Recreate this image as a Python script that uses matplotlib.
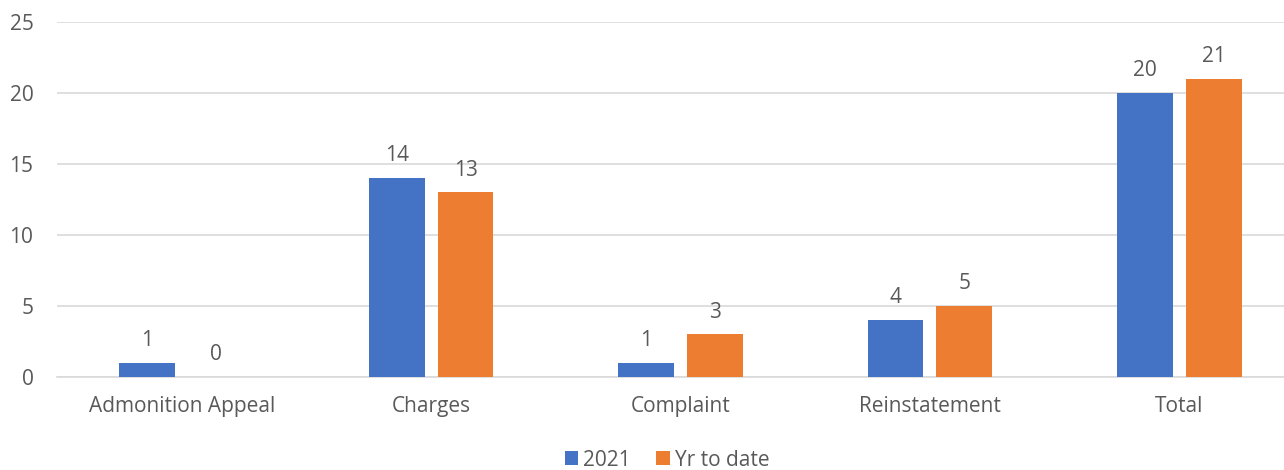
import matplotlib.pyplot as plt
from matplotlib import rcParams
import numpy as np

rcParams['font.family'] = ['Open Sans', 'DejaVu Sans']

# Data
categories = ['Admonition Appeal', 'Charges', 'Complaint', 'Reinstatement', 'Total']
values_2021 = [1, 14, 1, 4, 20]
values_ytd = [0, 13, 3, 5, 21]
series_names = ['2021', 'Yr to date']

blue = '#4472C4'
orange = '#ED7D31'
text_grey = '#595959'
fs = 15

fig = plt.figure(figsize=(12.84, 4.70), dpi=100)
ax = fig.add_axes([57 / 1284, 93 / 470, 1247 / 1284, 355 / 470])

x = np.arange(len(categories))
width = 0.224
offset = 0.138

bars1 = ax.bar(x - offset, values_2021, width, color=blue, label=series_names[0], zorder=3)
bars2 = ax.bar(x + offset, values_ytd, width, color=orange, label=series_names[1], zorder=3)

# Value labels above bars
for bars in (bars1, bars2):
    for b in bars:
        ax.annotate(f'{int(b.get_height())}', (b.get_x() + b.get_width() / 2, b.get_height()),
                    xytext=(0, 8.5), textcoords='offset points', ha='center', va='bottom',
                    fontsize=fs, color=text_grey)

ax.set_xlim(-0.5, 4.5)
ax.set_ylim(0, 25)
ax.set_yticks(range(0, 26, 5))
ax.set_xticks(x)
ax.set_xticklabels(categories)
ax.yaxis.grid(True, color='#D9D9D9', linewidth=1.2, zorder=0)
ax.set_axisbelow(True)
for s in ['top', 'right', 'left']:
    ax.spines[s].set_visible(False)
ax.spines['bottom'].set_color('#D9D9D9')
ax.spines['bottom'].set_linewidth(1.2)
ax.tick_params(axis='both', length=0, labelsize=fs, colors=text_grey)
ax.tick_params(axis='x', pad=14)
ax.tick_params(axis='y', pad=17)

fig.legend(handles=[bars1, bars2], labels=series_names, loc='center', bbox_to_anchor=(667 / 1284, 10 / 470),
           ncol=2, frameon=False, fontsize=fs, labelcolor=text_grey, handlelength=0.65,
           handleheight=0.65, handletextpad=0.25, columnspacing=1.2)

plt.savefig('out.png', dpi=100)
